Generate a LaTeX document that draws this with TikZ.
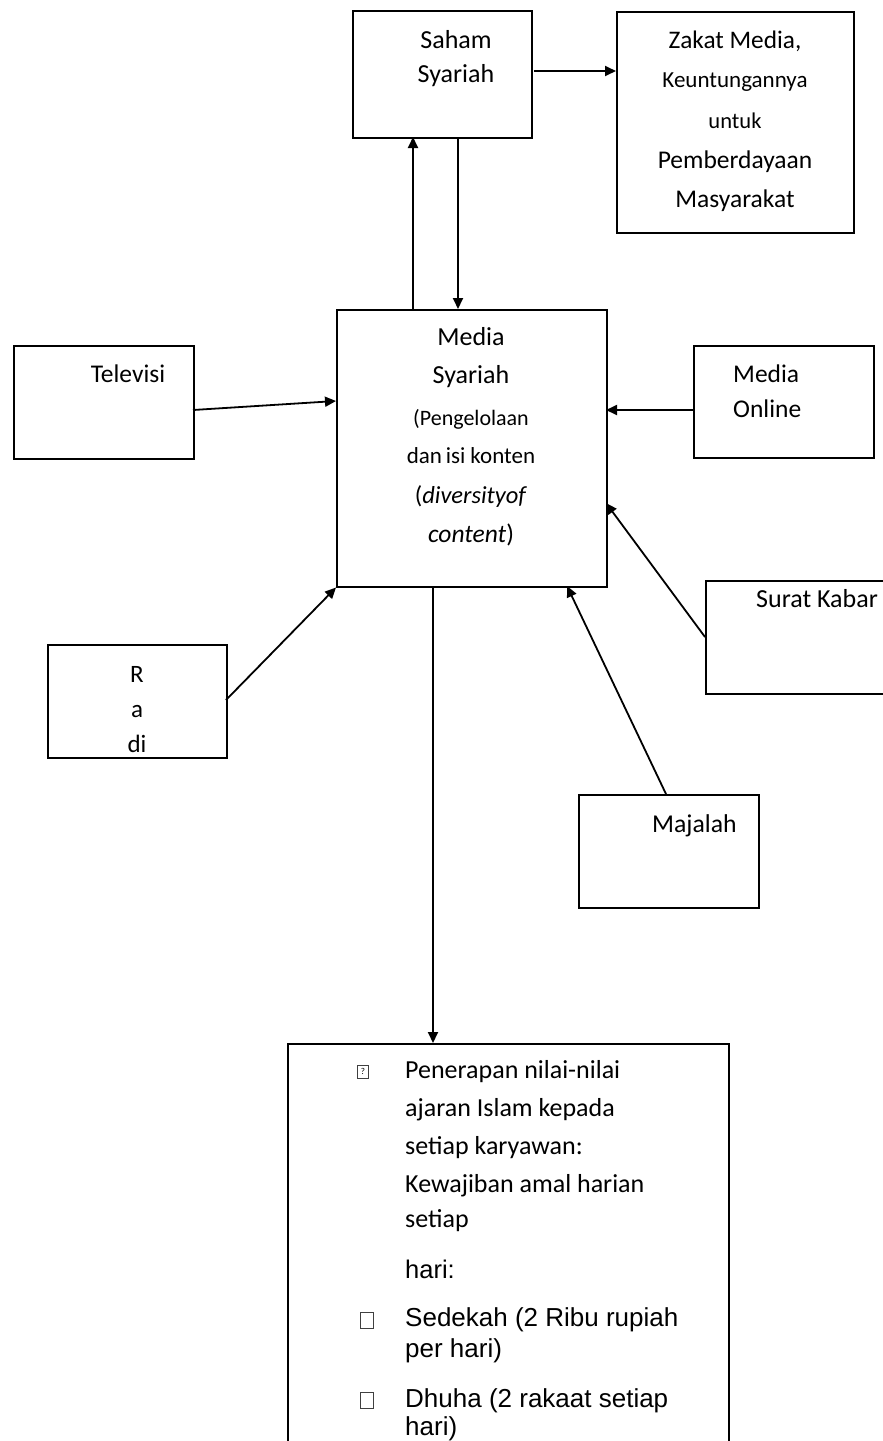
\documentclass[tikz,border=0pt]{standalone}
\usepackage{fontspec}
\setmainfont{Carlito}
\newfontfamily\arialf{Liberation Sans}
\usetikzlibrary{arrows.meta,calc}
\tikzset{
  box/.style={draw, line width=1.5pt, inner sep=0pt, anchor=north west},
  arr/.style={line width=1.8pt, -{Triangle[length=11pt,width=10pt]}},
  lbl/.style={anchor=base, inner sep=0pt},
  lblw/.style={anchor=base west, inner sep=0pt},
  glyphbox/.style={draw=black!75, line width=0.8pt, inner sep=0pt},
}
\newcommand\fs[1]{\fontsize{#1}{#1}\selectfont}
\begin{document}
\begin{tikzpicture}[x=1pt,y=-1pt]
\useasboundingbox (0,0) rectangle (883,1441);
% boxes
\node[box, minimum width=179pt, minimum height=127pt] (saham) at (352,10) {};
\node[box, minimum width=237pt, minimum height=221pt] (zakat) at (616,11) {};
\node[box, minimum width=270pt, minimum height=277pt] (media) at (336,309) {};
\node[box, minimum width=180pt, minimum height=113pt] (tv) at (13,345) {};
\node[box, minimum width=180pt, minimum height=112pt] (online) at (693,345) {};
\node[box, minimum width=179pt, minimum height=113pt] (radio) at (47,644) {};
\node[box, minimum width=185pt, minimum height=113pt] (surat) at (705,580) {};
\node[box, minimum width=180pt, minimum height=113pt] (majalah) at (578,794) {};
\node[box, minimum width=441pt, minimum height=430pt] (bottom) at (287,1043) {};
% texts
\node[lbl, font=\fs{26}] (s1) at (456,48) {Saham};
\node[lbl, font=\fs{26}] (s2) at (456,82) {Syariah};
\node[lbl, font=\fs{25.3}] (z1) at (735,48) {Zakat Media,};
\node[lbl, font=\fs{23}] (z2) at (735,87) {Keuntungannya};
\node[lbl, font=\fs{22.5}] (z3) at (735,128) {untuk};
\node[lbl, font=\fs{25.5}] (z4) at (735,168) {Pemberdayaan};
\node[lbl, font=\fs{25.5}] (z5) at (735,207) {Masyarakat};
\node[lbl, font=\fs{26}] (m1) at (471,345) {Media};
\node[lbl, font=\fs{26}] (m2) at (471,383) {Syariah};
\node[lbl, font=\fs{22}] (m3) at (471,425) {(Pengelolaan};
\node[lbl, font=\fs{23}] (m4) at (471,463) {dan\,isi konten};
\node[lbl, font=\fs{24.5}] (m5) at (471,503) {(\textit{diversityof}};
\node[lbl, font=\fs{25.5}] (m6) at (471,542) {\textit{content})};
\node[lbl, font=\fs{25.5}] (tvt) at (128,382) {Televisi};
\node[lblw, font=\fs{25.5}] (o1) at (733,382) {Media};
\node[lblw, font=\fs{25.5}] (o2) at (733,417) {Online};
\node[lbl, font=\fs{25}] (r1) at (137,682) {R};
\node[lbl, font=\fs{25}] (r2) at (137,717) {a};
\node[lbl, font=\fs{25}] (r3) at (137,752) {di};
\node[lblw, font=\fs{26}] (sk) at (756,607) {Surat Kabar};
\node[lblw, font=\fs{25.7}] (mj) at (652,832) {Majalah};
% bottom box text
\node[glyphbox, minimum width=11pt, minimum height=13pt, font=\fs{9}] (g1) at (363,1071.5) {?};
\node[lblw, font=\fs{26}] (b1) at (405,1078) {Penerapan nilai-nilai};
\node[lblw, font=\fs{26}] (b2) at (405,1116) {ajaran Islam kepada};
\node[lblw, font=\fs{26}] (b3) at (405,1154) {setiap karyawan:};
\node[lblw, font=\fs{26}] (b4) at (405,1192) {Kewajiban amal harian};
\node[lblw, font=\fs{26}] (b5) at (405,1227) {setiap};
\node[lblw, font={\arialf\fs{25.5}}] (b6) at (405,1278) {hari:};
\node[glyphbox, minimum width=13pt, minimum height=16pt] (g2) at (366.5,1320) {};
\node[lblw, font={\arialf\fs{26}}] (b7) at (405,1326) {Sedekah (2 Ribu rupiah};
\node[lblw, font={\arialf\fs{26}}] (b8) at (405,1357) {per hari)};
\node[glyphbox, minimum width=13pt, minimum height=16pt] (g3) at (366.5,1400) {};
\node[lblw, font={\arialf\fs{26}}] (b9) at (405,1407) {Dhuha (2 rakaat setiap};
\node[lblw, font={\arialf\fs{26}}] (b10) at (405,1435) {hari)};
% connectors
\draw[arr] ($(media.north west)+(77,0)$) -- ($(saham.north west)+(61,127)$);
\draw[arr] ($(saham.north west)+(106,127)$) -- ($(media.north west)+(122,0)$);
\draw[arr] ($(saham.north west)+(182,61)$) -- ($(zakat.north west)+(0,60)$);
\draw[arr] ($(tv.north west)+(180,65)$) -- ($(media.north west)+(0,92)$);
\draw[arr] ($(online.north west)+(0,65)$) -- ($(media.north west)+(270,101)$);
\draw[arr] ($(radio.north west)+(179,56)$) -- (media.south west);
\draw[arr] ($(surat.north west)+(0,57)$) -- ($(media.north west)+(270,194)$);
\draw[arr] ($(majalah.north west)+(88,0)$) -- ($(media.north west)+(231,277)$);
\draw[arr] ($(media.north west)+(97,277)$) -- ($(bottom.north west)+(146,0)$);
\end{tikzpicture}
\end{document}
